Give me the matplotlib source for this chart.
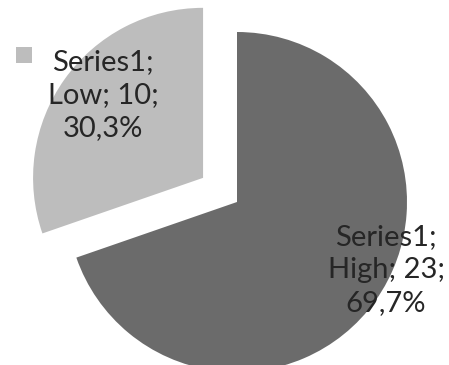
import matplotlib
matplotlib.use("Agg")
import matplotlib.pyplot as plt
from matplotlib.patches import Rectangle

categories = ["High", "Low"]
values = [23, 10]
series = "Series1"
colors = ["#6b6b6b", "#bdbdbd"]
explode = [0, 0.245]

total = sum(values)
labels = [f"{series};\n{c}; {v};\n{v / total * 100:.1f}%".replace(".", ",")
          for c, v in zip(categories, values)]

R = 170.0  # pie radius in pixels
CX, CY = 237, 202  # pie center in pixels (from top-left)
W, H = 449, 365

fig = plt.figure(figsize=(W / 100, H / 100), dpi=100)
ax = fig.add_axes([0, 0, 1, 1])
ax.pie(values, colors=colors, startangle=90, counterclock=False,
       explode=explode, radius=1, wedgeprops=dict(linewidth=0))
ax.set_xlim(-CX / R, (W - CX) / R)
ax.set_ylim(-(H - CY) / R, CY / R)
ax.set_aspect("equal")
ax.axis("off")

def px(x, y):
    return (x - CX) / R, (CY - y) / R

font = dict(family="Lato", fontsize=21, color="#262626", ha="center", va="center",
            linespacing=1.33)
ax.text(*px(386, 270), labels[0], **font)
ax.text(*px(103, 95), labels[1], **font)

# legend key inside the Low label
kx, ky = px(16, 63)
s = 16 / R
ax.add_patch(Rectangle((kx, ky), s, s, color=colors[1], linewidth=0))

fig.savefig("out.png", dpi=100)
